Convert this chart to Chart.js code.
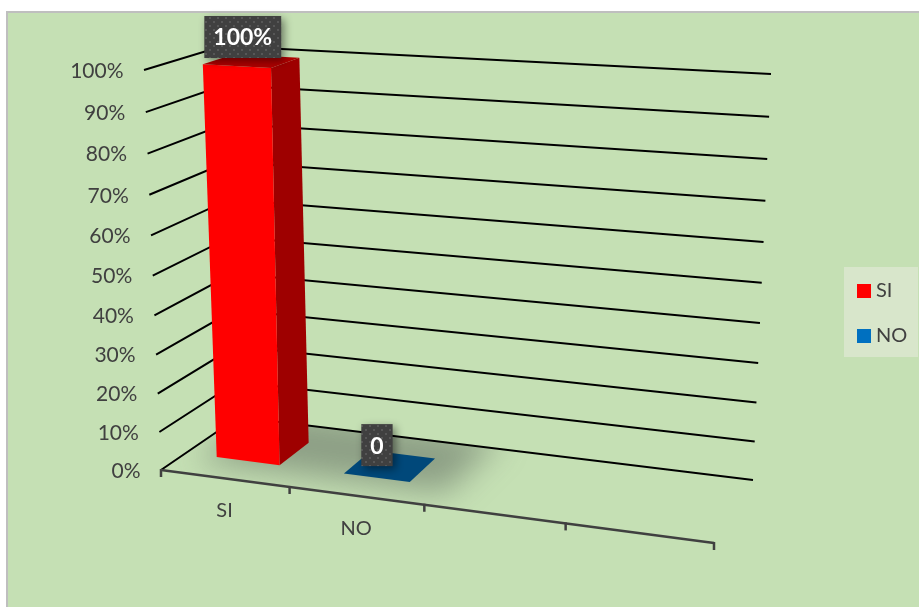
<!DOCTYPE html>
<html>
<head>
<meta charset="utf-8">
<script src="https://cdn.jsdelivr.net/npm/chart.js@4"></script>
<style>html,body{margin:0;padding:0;background:#fff}canvas{display:block}</style>
</head>
<body>
<canvas id="c" width="919" height="607"></canvas>
<script>
// ---- data ----
const categories = ['SI', 'NO', '', ''];
const values = [100, 0, null, null];
const pointLabels = ['100%', '0'];
const legendNames = ['SI', 'NO'];
const frontColors = ['#FF0000', '#0070C0'];
const sideColors = ['#9E0000', '#004070'];
const topColors = ['#AE0000', '#00487A'];

// ---- view frame of the 3D box (corner = front/back, floor/top, left/right) ----
const box = {
  f0l: [161, 470], f0r: [714, 543], b0l: [238.6, 417], b0r: [753, 480],
  f1l: [144, 70],  f1r: [749, 105], b1l: [223, 46],    b1r: [771, 74]
};
const depthFront = 0.32, depthBack = 0.73;
const lerp = (a, b, t) => [a[0] + (b[0] - a[0]) * t, a[1] + (b[1] - a[1]) * t];
function project(u, t, w) {
  const f = lerp(lerp(box.f0l, box.f0r, u), lerp(box.f1l, box.f1r, u), t);
  const b = lerp(lerp(box.b0l, box.b0r, u), lerp(box.b1l, box.b1r, u), t);
  return lerp(f, b, w);
}
const warp = (v, k) => v / (v + k * (1 - v));
const warpU = u => warp(u, 1.1);

class PerspY extends Chart.LinearScale {
  getPixelForValue(v) {
    const p = super.getPixelForValue(v);
    const h = this.bottom - this.top;
    return this.bottom - warp((this.bottom - p) / h, 1.058) * h;
  }
  _computeLabelItems(area) {
    const items = super._computeLabelItems(area);
    const h = this.bottom - this.top;
    items.forEach(it => {
      const t = (this.bottom - it.options.translation[1]) / h;
      const p = project(0, t, 0);
      it.options.translation = [p[0] - 20.5, p[1] + 1];
      it.options.textAlign = 'right';
    });
    return items;
  }
}
PerspY.id = 'perspY';
PerspY.defaults = Chart.LinearScale.defaults;

class PerspX extends Chart.CategoryScale {
  _computeLabelItems(area) {
    const items = super._computeLabelItems(area);
    items.forEach(it => {
      const u = warpU((it.options.translation[0] - this.left) / this.width);
      const p = project(u, 0, 0);
      it.options.translation = [p[0], p[1] + 32.5];
      it.options.textAlign = 'center';
      it.options.textBaseline = 'middle';
      it.textOffset = 0;
    });
    return items;
  }
}
PerspX.id = 'perspX';
PerspX.defaults = Chart.CategoryScale.defaults;
Chart.register(PerspY, PerspX);

function poly(ctx, pts) {
  ctx.beginPath();
  pts.forEach((p, i) => i ? ctx.lineTo(p[0], p[1]) : ctx.moveTo(p[0], p[1]));
  ctx.closePath();
}
function swatch(color) {
  const c = document.createElement('canvas');
  c.width = c.height = 14;
  const g = c.getContext('2d');
  g.fillStyle = color; g.fillRect(0, 0, 14, 14);
  return c;
}
function labelPattern(ctx) {
  const c = document.createElement('canvas');
  c.width = c.height = 8;
  const g = c.getContext('2d');
  g.fillStyle = '#404040'; g.fillRect(0, 0, 8, 8);
  g.fillStyle = '#575757'; g.fillRect(1, 1, 2, 2); g.fillRect(5, 5, 2, 2);
  return ctx.createPattern(c, 'repeat');
}

const scene = {
  id: 'scene',
  afterLayout(chart) {
    const l = chart.legend;
    const dx = 837 - l.left, dy = 256 - l.top;
    l.left += dx; l.right += dx; l.top += dy; l.bottom += dy;
  },
  beforeDraw(chart) {
    const ctx = chart.ctx, ys = chart.scales.y;
    ctx.save();
    ctx.fillStyle = '#FFFFFF'; ctx.fillRect(0, 0, 919, 607);
    ctx.fillStyle = '#BFBFBF'; ctx.fillRect(6, 11, 913, 596);
    ctx.fillStyle = '#C5E0B4'; ctx.fillRect(8, 13, 911, 594);
    ctx.fillStyle = '#D8E6CB'; ctx.fillRect(844, 267, 74, 90);
    // floor shadow, clipped to the floor
    ctx.save();
    poly(ctx, [project(0,0,0), project(1,0,0), project(1,0,1), project(0,0,1)]);
    ctx.clip();
    ctx.filter = 'blur(16px)';
    ctx.fillStyle = 'rgba(95,105,95,0.55)';
    poly(ctx, [project(0.03,0,0.22), project(0.49,0,0.22), project(0.49,0,1.2), project(0.03,0,1.2)]);
    ctx.fill();
    ctx.restore();
    // gridlines on left and back walls
    ctx.strokeStyle = '#000000'; ctx.lineWidth = 2; ctx.lineCap = 'butt';
    const h = ys.bottom - ys.top;
    ys.ticks.forEach(tk => {
      const t = (ys.bottom - ys.getPixelForValue(tk.value)) / h;
      const a = project(0,t,0), b = project(0,t,1), c = project(1,t,1);
      ctx.beginPath(); ctx.moveTo(a[0],a[1]); ctx.lineTo(b[0],b[1]); ctx.lineTo(c[0],c[1]); ctx.stroke();
    });
    // front floor edge + tick marks at category boundaries
    const xs = chart.scales.x;
    ctx.strokeStyle = '#404040'; ctx.lineWidth = 2.5; ctx.lineJoin = 'round';
    const a = project(0,0,0), e = project(1,0,0);
    ctx.beginPath(); ctx.moveTo(a[0],a[1]); ctx.lineTo(e[0],e[1]); ctx.stroke();
    for (let i = 0; i <= categories.length; i++) {
      const u = warpU((xs.getPixelForValue(i - 0.5) - xs.left) / xs.width);
      const p = project(u,0,0);
      ctx.beginPath(); ctx.moveTo(p[0],p[1] - 1); ctx.lineTo(p[0],p[1] + 7); ctx.stroke();
    }
    ctx.restore();
  },
  beforeDatasetDraw(chart, args) {
    const ctx = chart.ctx, xs = chart.scales.x, ys = chart.scales.y;
    const h = ys.bottom - ys.top;
    const meta = args.meta;
    const labelBoxes = [];
    ctx.save();
    meta.data.forEach((el, i) => {
      if (values[i] === null) return;
      const u0 = warpU((el.x - el.width / 2 - xs.left) / xs.width);
      const u1 = warpU((el.x + el.width / 2 - xs.left) / xs.width);
      const t = (ys.bottom - el.y) / h;
      if (t > 0.001) {
        ctx.fillStyle = sideColors[i];
        poly(ctx, [project(u1,0,depthFront), project(u1,0,depthBack), project(u1,t,depthBack), project(u1,t,depthFront)]);
        ctx.fill();
        ctx.fillStyle = frontColors[i];
        poly(ctx, [project(u0,0,depthFront), project(u1,0,depthFront), project(u1,t,depthFront), project(u0,t,depthFront)]);
        ctx.fill();
      }
      ctx.fillStyle = topColors[i];
      poly(ctx, [project(u0,t,depthFront), project(u1,t,depthFront), project(u1,t,depthBack), project(u0,t,depthBack)]);
      ctx.fill();
      labelBoxes.push([i, t, project((u0 + u1) / 2, t, (depthFront + depthBack) / 2)]);
    });
    // point labels
    const pat = labelPattern(ctx);
    labelBoxes.forEach(([i, t, c]) => {
      ctx.font = 'bold 23px Lato';
      const txt = pointLabels[i];
      const w = ctx.measureText(txt).width + 18, bh = 42;
      const cx = c[0] - 13 + 4 * t, cy = c[1] - 21 - 3 * t;
      ctx.save();
      ctx.shadowColor = 'rgba(0,0,0,0.45)'; ctx.shadowBlur = 8; ctx.shadowOffsetX = 3; ctx.shadowOffsetY = 3;
      ctx.fillStyle = pat;
      ctx.fillRect(cx - w / 2, cy - bh / 2, w, bh);
      ctx.restore();
      ctx.fillStyle = '#FFFFFF'; ctx.textAlign = 'center'; ctx.textBaseline = 'middle';
      ctx.fillText(txt, cx, cy + 1);
    });
    ctx.restore();
    return false;
  }
};

new Chart(document.getElementById('c'), {
  type: 'bar',
  data: {
    labels: categories,
    datasets: [{ data: values, backgroundColor: frontColors, categoryPercentage: 0.5, barPercentage: 1 }]
  },
  options: {
    responsive: false,
    animation: false,
    layout: { padding: { top: 70, left: 0, right: 0, bottom: 0 } },
    scales: {
      x: {
        type: 'perspX',
        grid: { display: false }, border: { display: false },
        afterFit(s) { s.height = 137; },
        ticks: { autoSkip: false, maxRotation: 0, color: '#404040', font: { family: 'Lato', size: 20 } }
      },
      y: {
        type: 'perspY', min: 0, max: 100,
        grid: { display: false }, border: { display: false },
        afterFit(s) { s.width = 150; },
        ticks: { stepSize: 10, color: '#404040', font: { family: 'Lato', size: 21 }, callback: v => v + '%' }
      }
    },
    plugins: {
      title: { display: false },
      tooltip: { enabled: false },
      legend: {
        display: true, position: 'right', align: 'start',
        labels: {
          usePointStyle: true, boxWidth: 4, padding: 25, color: '#404040',
          font: { family: 'Lato', size: 20 },
          generateLabels: () => legendNames.map((n, i) => ({
            text: n, fillStyle: frontColors[i], strokeStyle: frontColors[i], lineWidth: 0,
            pointStyle: swatch(frontColors[i]), fontColor: '#404040', index: i, hidden: false
          }))
        }
      }
    }
  },
  plugins: [scene]
});
</script>
</body>
</html>
